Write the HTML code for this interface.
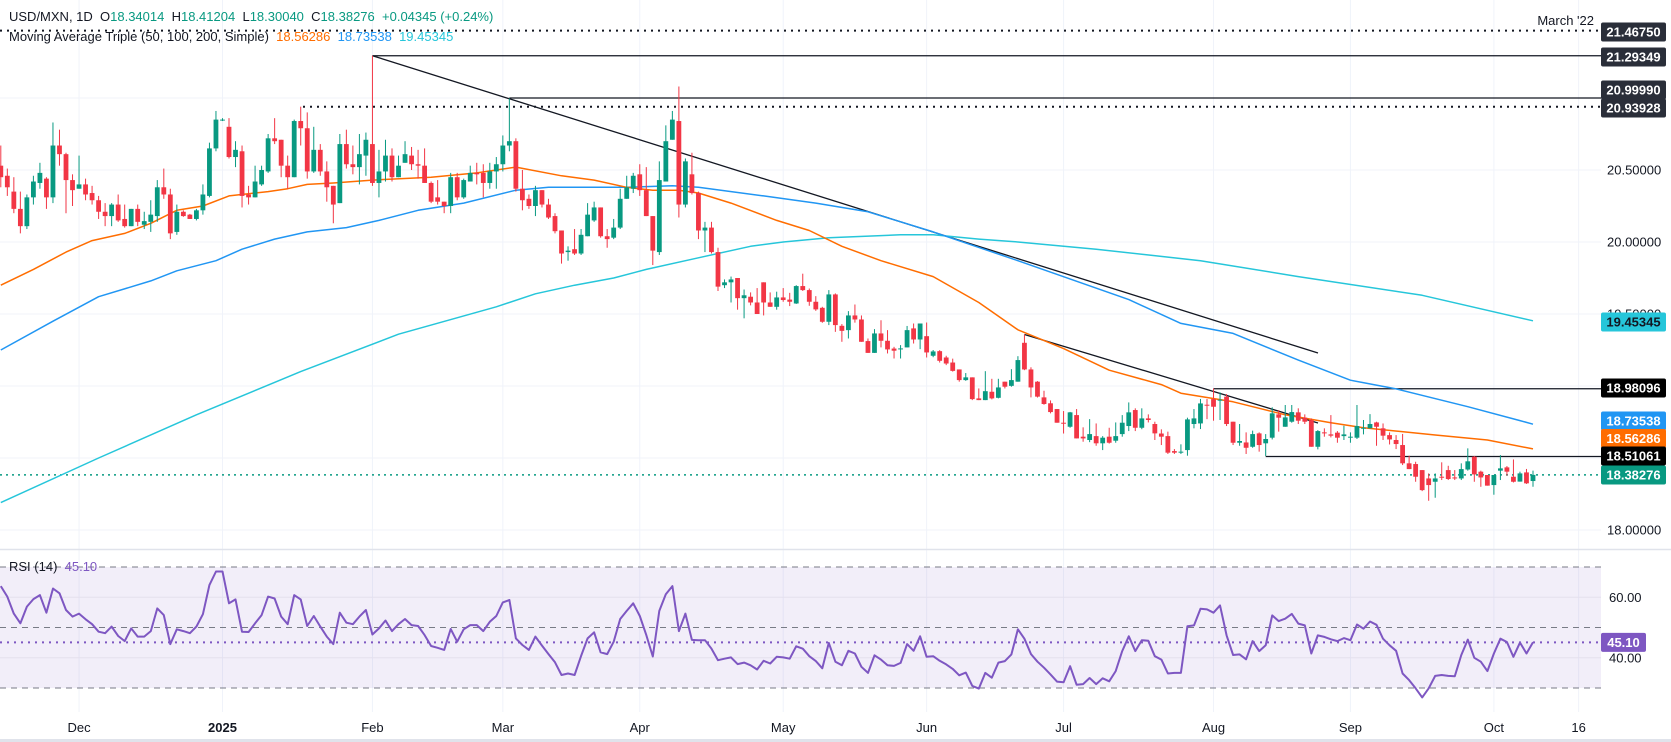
<!DOCTYPE html>
<html><head><meta charset="utf-8">
<style>
html,body{margin:0;padding:0;background:#fff;}
body{width:1671px;height:742px;overflow:hidden;font-family:"Liberation Sans",sans-serif;}
svg{display:block;}
.lg{position:absolute;font-size:13px;color:#131722;white-space:pre;}
</style></head>
<body>
<div style="position:relative;width:1671px;height:742px;">
<svg id="chart" width="1671" height="742"></svg>
<div class="lg" style="left:9px;top:9px;">USD/MXN, 1D  O<span style="color:#089981">18.34014</span>  H<span style="color:#089981">18.41204</span>  L<span style="color:#089981">18.30040</span>  C<span style="color:#089981">18.38276</span>  <span style="color:#089981">+0.04345 (+0.24%)</span></div>
<div class="lg" style="left:9px;top:29px;">Moving Average Triple (50, 100, 200, Simple)  <span style="color:#ff6d00">18.56286</span>  <span style="color:#2196f3">18.73538</span>  <span style="color:#26c6da">19.45345</span></div>
<div class="lg" style="left:9px;top:559px;">RSI (14)  <span style="color:#7e57c2">45.10</span></div>
</div>
<script>
const openP=[20.53,20.46,20.35,20.23,20.11,20.31,20.41,20.44,20.31,20.67,20.61,20.43,20.37,20.40,20.34,20.29,20.21,20.18,20.26,20.16,20.11,20.23,20.12,20.14,20.18,20.38,20.33,20.07,20.21,20.19,20.16,20.22,20.32,20.65,20.845,20.80,20.59,20.63,20.33,20.31,20.40,20.49,20.72,20.71,20.53,20.45,20.84,20.79,20.49,20.64,20.49,20.39,20.27,20.68,20.54,20.52,20.60,20.68,20.41,20.49,20.60,20.45,20.55,20.60,20.54,20.53,20.41,20.31,20.28,20.25,20.45,20.31,20.42,20.48,20.48,20.41,20.49,20.54,20.67,20.70,20.37,20.30,20.25,20.36,20.26,20.18,20.08,19.93,19.95,19.92,20.04,20.15,20.24,20.04,20.03,20.10,20.30,20.37,20.47,20.36,20.18,19.93,20.42,20.71,20.84,20.26,20.47,20.34,20.08,20.10,19.93,19.70,19.72,19.75,19.61,19.62,19.58,19.72,19.58,19.55,19.615,19.60,19.573,19.694,19.666,19.585,19.543,19.446,19.636,19.418,19.388,19.49,19.462,19.312,19.23,19.365,19.314,19.26,19.254,19.268,19.40,19.323,19.346,19.21,19.242,19.198,19.163,19.115,19.041,19.06,18.914,18.902,18.96,18.918,19.03,19.001,19.03,19.30,19.115,19.03,18.921,18.88,18.84,18.745,18.717,18.798,18.648,18.625,18.652,18.602,18.648,18.62,18.666,18.722,18.833,18.71,18.775,18.736,18.67,18.652,18.548,18.537,18.555,18.736,18.74,18.87,18.909,18.90,18.926,18.752,18.606,18.608,18.578,18.671,18.602,18.641,18.803,18.717,18.752,18.817,18.78,18.763,18.578,18.678,18.664,18.676,18.652,18.643,18.641,18.708,18.706,18.747,18.706,18.659,18.625,18.59,18.463,18.458,18.416,18.358,18.335,18.37,18.416,18.365,18.358,18.42,18.509,18.405,18.382,18.312,18.412,18.435,18.37,18.336,18.40,18.34014];
const highP=[20.67,20.51,20.45,20.35,20.33,20.46,20.55,20.45,20.83,20.78,20.62,20.47,20.60,20.44,20.39,20.32,20.27,20.27,20.33,20.26,20.23,20.26,20.21,20.29,20.43,20.51,20.37,20.26,20.22,20.195,20.23,20.40,20.69,20.91,20.86,20.86,20.70,20.67,20.39,20.53,20.53,20.75,20.86,20.71,20.60,20.85,20.94,20.90,20.80,20.68,20.56,20.39,20.75,20.78,20.67,20.75,20.76,21.293,20.64,20.71,20.65,20.60,20.70,20.66,20.64,20.65,20.42,20.43,20.28,20.48,20.48,20.44,20.53,20.55,20.54,20.55,20.59,20.74,20.997,20.72,20.50,20.33,20.39,20.36,20.30,20.20,20.08,19.97,20.09,20.09,20.27,20.28,20.24,20.09,20.16,20.37,20.46,20.48,20.54,20.52,20.18,20.56,20.81,20.91,21.08,20.58,20.62,20.35,20.14,20.14,19.96,19.74,19.76,19.75,19.67,19.65,19.68,19.72,19.65,19.655,19.68,19.647,19.70,19.78,19.677,19.624,19.55,19.666,19.643,19.43,19.52,19.566,19.49,19.33,19.395,19.457,19.388,19.272,19.284,19.417,19.434,19.434,19.441,19.25,19.249,19.21,19.19,19.115,19.09,19.06,18.983,19.103,19.05,19.05,19.03,19.117,19.207,19.358,19.13,19.034,18.967,18.90,18.84,18.826,18.82,18.84,18.713,18.77,18.74,18.652,18.71,18.747,18.798,18.886,18.845,18.845,18.803,18.752,18.699,18.683,18.562,18.595,18.78,18.84,18.91,18.91,18.983,18.956,18.944,18.752,18.736,18.678,18.69,18.678,18.666,18.852,18.833,18.868,18.868,18.845,18.803,18.775,18.694,18.706,18.798,18.687,18.724,18.678,18.868,18.764,18.805,18.752,18.74,18.678,18.659,18.667,18.516,18.474,18.416,18.393,18.393,18.47,18.446,18.416,18.463,18.567,18.514,18.412,18.382,18.382,18.52,18.444,18.49,18.405,18.424,18.41204];
const lowP=[20.38,20.32,20.20,20.06,20.09,20.26,20.37,20.23,20.27,20.53,20.20,20.25,20.37,20.29,20.26,20.16,20.11,20.11,20.14,20.10,20.11,20.11,20.09,20.07,20.14,20.30,20.02,20.05,20.175,20.16,20.15,20.19,20.31,20.63,20.84,20.58,20.52,20.24,20.26,20.31,20.39,20.48,20.68,20.45,20.37,20.45,20.67,20.44,20.48,20.46,20.28,20.13,20.27,20.51,20.47,20.40,20.46,20.39,20.31,20.42,20.42,20.45,20.55,20.50,20.44,20.41,20.27,20.26,20.20,20.20,20.29,20.30,20.42,20.40,20.31,20.37,20.37,20.49,20.63,20.35,20.22,20.23,20.18,20.24,20.16,20.06,19.85,19.87,19.91,19.91,20.04,20.14,20.03,19.96,20.02,20.09,20.30,20.34,20.32,20.18,19.84,19.91,20.42,20.71,20.17,20.24,20.33,20.02,19.93,19.92,19.66,19.68,19.58,19.53,19.47,19.56,19.50,19.49,19.55,19.53,19.585,19.555,19.57,19.66,19.557,19.522,19.439,19.423,19.376,19.307,19.33,19.44,19.307,19.23,19.23,19.268,19.226,19.191,19.191,19.268,19.295,19.256,19.198,19.20,19.163,19.145,19.10,19.03,19.036,18.902,18.902,18.902,18.907,18.914,18.983,18.995,19.03,19.11,18.921,18.92,18.87,18.81,18.745,18.67,18.71,18.636,18.613,18.61,18.585,18.555,18.60,18.606,18.648,18.687,18.687,18.70,18.747,18.625,18.59,18.528,18.528,18.528,18.516,18.706,18.701,18.77,18.759,18.764,18.722,18.59,18.585,18.528,18.571,18.544,18.514,18.629,18.683,18.717,18.745,18.736,18.736,18.578,18.56,18.648,18.643,18.606,18.625,18.606,18.632,18.664,18.706,18.585,18.625,18.594,18.562,18.451,18.423,18.335,18.27,18.203,18.224,18.347,18.347,18.347,18.347,18.412,18.335,18.30,18.308,18.245,18.347,18.377,18.33,18.336,18.32,18.3004];
const closeP=[20.45,20.38,20.23,20.11,20.31,20.42,20.48,20.31,20.67,20.61,20.43,20.36,20.40,20.33,20.29,20.21,20.18,20.26,20.15,20.11,20.23,20.14,20.145,20.19,20.38,20.33,20.06,20.21,20.18,20.16,20.22,20.33,20.65,20.85,20.85,20.59,20.64,20.32,20.31,20.42,20.50,20.72,20.70,20.53,20.45,20.84,20.79,20.49,20.64,20.49,20.38,20.26,20.68,20.54,20.52,20.61,20.71,20.41,20.49,20.60,20.45,20.53,20.61,20.54,20.53,20.41,20.28,20.28,20.25,20.45,20.31,20.43,20.48,20.47,20.41,20.49,20.54,20.67,20.70,20.37,20.29,20.25,20.36,20.26,20.17,20.075,19.92,19.94,19.92,20.05,20.19,20.24,20.04,20.02,20.10,20.30,20.38,20.46,20.36,20.18,19.94,20.43,20.70,20.85,20.26,20.56,20.34,20.08,20.10,19.93,19.69,19.72,19.74,19.61,19.63,19.58,19.50,19.58,19.55,19.615,19.597,19.585,19.694,19.666,19.585,19.532,19.446,19.636,19.423,19.383,19.49,19.462,19.307,19.23,19.365,19.314,19.254,19.245,19.261,19.388,19.323,19.434,19.233,19.24,19.175,19.156,19.105,19.041,19.06,18.909,18.902,18.964,18.914,18.99,18.995,19.041,19.18,19.115,18.99,18.926,18.875,18.819,18.745,18.74,18.817,18.636,18.636,18.666,18.602,18.641,18.606,18.652,18.745,18.817,18.71,18.775,18.764,18.671,18.648,18.537,18.537,18.544,18.768,18.775,18.879,18.868,18.856,18.905,18.736,18.606,18.618,18.571,18.666,18.59,18.632,18.81,18.78,18.782,18.819,18.759,18.752,18.578,18.687,18.676,18.655,18.641,18.664,18.648,18.722,18.71,18.736,18.717,18.655,18.629,18.597,18.463,18.423,18.37,18.277,18.312,18.358,18.363,18.354,18.358,18.423,18.477,18.386,18.365,18.308,18.382,18.428,18.405,18.335,18.393,18.324,18.38276];
const ma50Idx=[0,5,10,14,19,23,27,31,35,41,44,47,51,57,66,73,79,86,91,96,100,104,107,112,119,124,129,135,143,150,156,163,170,178,181,189,197,204,209,220,228,235];
const ma50Val=[19.70,19.81,19.93,20.01,20.06,20.13,20.22,20.25,20.32,20.35,20.37,20.40,20.41,20.43,20.45,20.48,20.52,20.46,20.43,20.38,20.36,20.36,20.34,20.27,20.15,20.08,19.97,19.87,19.76,19.58,19.39,19.26,19.11,19.01,18.95,18.89,18.80,18.745,18.71,18.66,18.625,18.563];
const ma100Idx=[0,8,15,23,27,33,37,42,47,53,58,64,71,79,84,96,103,107,117,125,133,143,156,173,181,189,199,207,214,225,233,235];
const ma100Val=[19.25,19.45,19.62,19.73,19.80,19.87,19.95,20.02,20.07,20.10,20.15,20.22,20.27,20.36,20.38,20.38,20.39,20.38,20.32,20.27,20.21,20.07,19.87,19.60,19.435,19.365,19.18,19.04,18.98,18.856,18.76,18.735];
const ma200Idx=[0,15,30,46,61,76,82,88,94,99,107,115,120,127,138,143,150,156,168,184,199,218,235];
const ma200Val=[18.19,18.50,18.80,19.10,19.36,19.55,19.64,19.70,19.75,19.81,19.89,19.97,20.00,20.03,20.05,20.05,20.02,20.00,19.95,19.87,19.76,19.63,19.453];
const rsiVal=[63.7,60.2,54.6,51.4,56.9,59.4,60.7,54.9,62.9,61.3,55.8,53.6,54.6,52.7,51.1,48.6,48.1,50.3,47.2,45.5,49.7,47.0,47.0,48.8,56.3,54.1,44.5,49.4,48.8,48.1,50.3,54.4,64.0,68.5,68.5,58.0,59.3,48.6,48.5,51.4,54.1,60.2,59.6,53.6,51.1,60.7,59.3,50.5,53.8,50.3,47.0,44.5,54.9,51.6,51.1,53.6,55.8,47.7,49.7,52.3,48.8,51.1,52.8,50.8,50.5,47.5,43.9,43.3,42.6,49.5,45.3,49.4,50.8,50.8,48.8,51.9,53.8,58.3,59.1,46.4,44.2,42.6,47.0,44.0,41.2,38.5,34.3,34.8,34.3,40.6,46.4,48.4,41.8,41.2,45.3,52.8,55.5,58.0,53.8,47.5,40.4,55.5,61.0,63.7,48.8,54.6,45.9,
45.8,45.8,43.0,39.2,39.7,40.1,37.9,38.4,37.5,36.1,39.0,38.1,40.3,40.1,39.7,43.8,43.0,40.5,38.9,36.5,44.9,38.7,37.5,42.3,41.4,37.0,35.0,40.8,39.4,37.5,37.3,38.3,44.5,42.3,47.1,40.3,40.5,39.0,37.8,36.3,34.2,35.1,30.7,29.8,35.0,33.4,38.4,38.9,41.1,49.4,46.3,41.2,38.7,36.7,34.5,32.1,31.9,37.2,31.1,31.3,33.3,31.3,33.2,32.2,35.6,42.2,47.1,42.2,45.8,45.6,40.5,39.4,34.8,35.0,35.0,50.4,50.7,56.2,56.0,
54.9,57.3,47.4,40.9,41.1,39.5,45.5,42.2,44.1,54.0,52.1,52.9,54.5,51.3,50.7,41.4,47.4,46.9,46.1,45.5,46.5,45.8,51.0,49.6,52.0,50.9,46.3,44.1,42.3,34.8,32.6,29.9,26.9,29.9,34.0,34.3,34.0,33.9,40.9,46.0,40.0,38.7,35.6,41.4,46.3,45.2,40.3,45.0,41.4,45.1];
const monthLabels=["Dec","2025","Feb","Mar","Apr","May","Jun","Jul","Aug","Sep","Oct","16"];
const monthIdx=[12,34,57,77,98,120,142,163,186,207,229,242];
const priceTicks=[18.0,18.5,19.0,19.5,20.0,20.5,21.0];
const priceTickShown=["18.00000","","","19.50000","20.00000","20.50000",""];
const rsiTicks=[60,40];

const NS="http://www.w3.org/2000/svg";
const svg=document.getElementById('chart');
const N=closeP.length, SP=6.52, LASTX=1533, PR=1601;
function xOf(i){return LASTX-(N-1-i)*SP;}
function yP(p){return 242-(p-20)*144;}
function yR(r){return 567+(70-r)*3.025;}
function mk(tag,attrs,parent){const e=document.createElementNS(NS,tag);for(const k in attrs)e.setAttribute(k,attrs[k]);(parent||svg).appendChild(e);return e;}

// grid
monthIdx.forEach((mi,k)=>{
  const g=mk('line',{x1:xOf(mi),x2:xOf(mi),y1:0,y2:712,stroke:'#f0f3fa','stroke-width':1});
  
  
});
priceTicks.forEach(p=>{
  const g=mk('line',{x1:0,x2:PR,y1:yP(p),y2:yP(p),stroke:'#f0f3fa','stroke-width':1});
  
  
});
// pane separator
let sep=mk('line',{x1:0,x2:1671,y1:549.5,y2:549.5,stroke:'#e0e3eb','stroke-width':1.5});


let bb=mk('rect',{x:0,y:712,width:1671,height:30,fill:'#fff'});


let bl=mk('line',{x1:0,x2:1671,y1:740.5,y2:740.5,stroke:'#e0e3eb','stroke-width':3});



// RSI pane
let band=mk('rect',{x:0,y:yR(70),width:PR,height:yR(30)-yR(70),fill:'#7e57c2','fill-opacity':0.1});


rsiTicks.forEach(r=>{
  const g=mk('line',{x1:0,x2:PR,y1:yR(r),y2:yR(r),stroke:'#e4e0ee','stroke-width':1});
  
  
});
[70,50,30].forEach(r=>{
  const g=mk('line',{x1:0,x2:PR,y1:yR(r),y2:yR(r),stroke:'#787b86','stroke-width':1,'stroke-dasharray':'6 5'});
  
  
});
const rsiLast=rsiVal[rsiVal.length-1];
let rdl=mk('line',{x1:0,x2:PR,y1:yR(rsiLast),y2:yR(rsiLast),stroke:'#7e57c2','stroke-width':2,'stroke-dasharray':'2 5'});


let rpts=rsiVal.map((r,i)=>xOf(i).toFixed(1)+','+yR(r).toFixed(1)).join(' ');
let rl=mk('polyline',{points:rpts,fill:'none',stroke:'#7e57c2','stroke-width':2,'stroke-linejoin':'round'});



// horizontal levels and trendlines
function hline(p,x1,dash,name,color){
  const l=mk('line',{x1:x1,x2:PR,y1:yP(p),y2:yP(p),stroke:color||'#131722','stroke-width':dash?2:1.3});
  if(dash)l.setAttribute('stroke-dasharray',dash);
  return l;
}
let h1=hline(21.4675,0,'2 5');


let h2=hline(21.29349,xOf(57));


let h3=hline(20.9999,xOf(78));


let h4=hline(20.93928,303,'2 5');


let h5=hline(18.98096,xOf(186));


let h6=hline(18.51061,xOf(194));


let h7=hline(closeP[N-1],0,'2 4','', '#089981');
h7.setAttribute('stroke-width',1.5);


let t1=mk('line',{x1:xOf(57),y1:yP(21.29349),x2:1318,y2:353,stroke:'#131722','stroke-width':1.3});


let t2=mk('line',{x1:xOf(157),y1:yP(19.358),x2:1318,y2:423,stroke:'#131722','stroke-width':1.3});



// moving averages
function maLine(idx,val,color,name){
  const pts=idx.map((ii,k)=>xOf(ii).toFixed(1)+','+yP(val[k]).toFixed(1)).join(' ');
  return mk('polyline',{points:pts,fill:'none',stroke:color,'stroke-width':1.5,'stroke-linejoin':'round'});
}
let m200=maLine(ma200Idx,ma200Val,'#26c6da');


let m100=maLine(ma100Idx,ma100Val,'#2196f3');


let m50=maLine(ma50Idx,ma50Val,'#ff6d00');



// candles
for(let i=0;i<N;i++){
  const up=closeP[i]>=openP[i];
  const col=up?'#089981':'#f23645';
  const x=xOf(i);
  const w=mk('line',{x1:x,x2:x,y1:yP(highP[i]),y2:yP(lowP[i]),stroke:col,'stroke-width':1});
  
  
  const top=yP(Math.max(openP[i],closeP[i])),bot=yP(Math.min(openP[i],closeP[i]));
  const b=mk('rect',{x:x-2.4,y:top,width:4.8,height:Math.max(1,bot-top),fill:col});
  
  
}

// axis tick labels
priceTicks.forEach((p,k)=>{
  if(!priceTickShown[k])return;
  const t=mk('text',{x:1607,y:yP(p)+4.5,'font-size':13,fill:'#131722','font-family':'Liberation Sans, sans-serif'});
  t.textContent=priceTickShown[k];
  
  
});
rsiTicks.forEach(r=>{
  const t=mk('text',{x:1609,y:yR(r)+4.5,'font-size':13,fill:'#131722','font-family':'Liberation Sans, sans-serif'});
  t.textContent=r.toFixed(2);
  
  
});
monthLabels.forEach((m,k)=>{
  const t=mk('text',{x:xOf(monthIdx[k]),y:732,'font-size':13,fill:'#131722','text-anchor':'middle','font-family':'Liberation Sans, sans-serif'});
  if(m==='2025')t.setAttribute('font-weight','bold');
  t.textContent=m;
  
  
});
let mt=mk('text',{x:1594,y:25,'font-size':13,fill:'#131722','text-anchor':'end','font-family':'Liberation Sans, sans-serif'});
mt.textContent="March '22";



// price label boxes
function box(cy,text,bg,fg){
  const g=mk('g',{});
  mk('rect',{x:1601,y:cy-9.5,width:65,height:19,rx:2,fill:bg},g);
  const t=mk('text',{x:1633.5,y:cy+4.6,'font-size':13,fill:fg,'text-anchor':'middle','font-weight':'bold','font-family':'Liberation Sans, sans-serif'},g);
  t.textContent=text;
  return g;
}
let b1=box(32,'21.46750','#2a2e39','#fff');


let b2=box(57,'21.29349','#2a2e39','#fff');


let b3=box(90,'20.99990','#2a2e39','#fff');


let b4=box(108,'20.93928','#2a2e39','#fff');


let b5=box(322,'19.45345','#26c6da','#131722');


let b6=box(388,'18.98096','#000','#fff');


let b7=box(421,'18.73538','#2196f3','#fff');


let b8=box(438.5,'18.56286','#ff6d00','#fff');


let b9=box(456,'18.51061','#000','#fff');


let b10=box(475,'18.38276','#089981','#fff');


let b11=mk('g',{});
mk('rect',{x:1601,y:yR(rsiLast)-9.5,width:45,height:19,rx:2,fill:'#7e57c2'},b11);
let bt=mk('text',{x:1623.5,y:yR(rsiLast)+4.6,'font-size':13,fill:'#fff','text-anchor':'middle','font-weight':'bold','font-family':'Liberation Sans, sans-serif'},b11);
bt.textContent=rsiLast.toFixed(2);


</script>
</body></html>
